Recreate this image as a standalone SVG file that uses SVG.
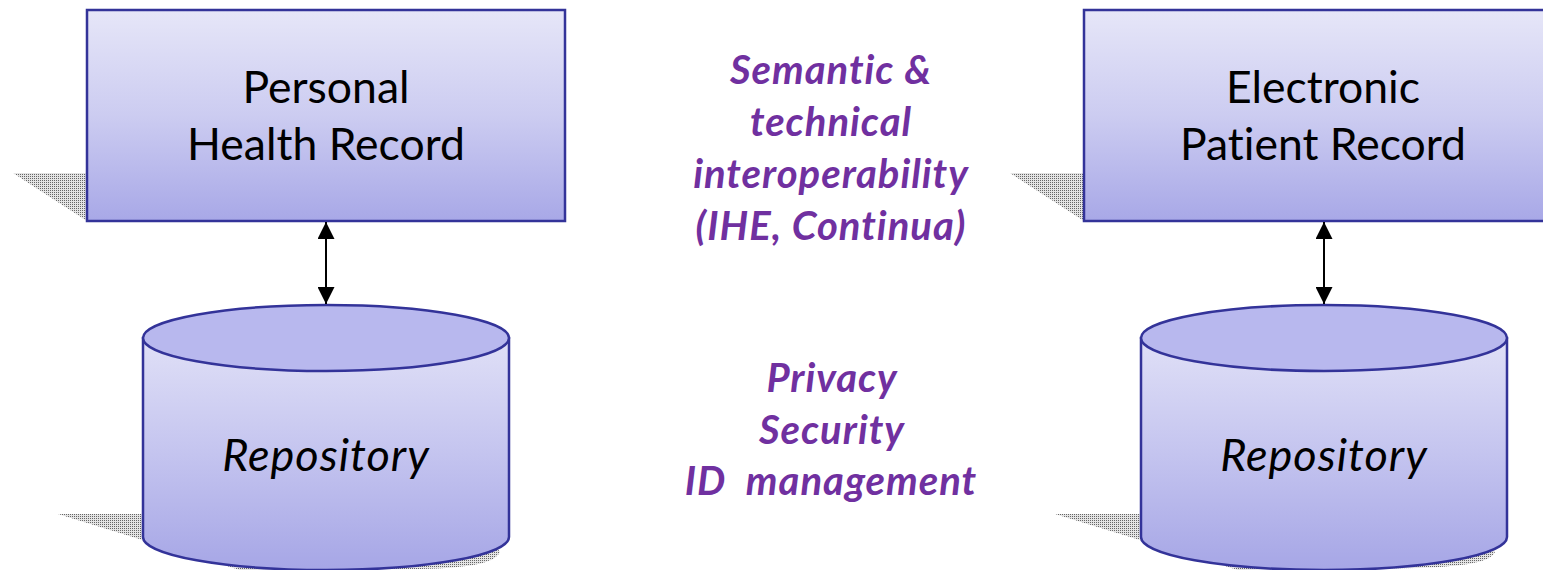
<svg xmlns="http://www.w3.org/2000/svg" width="1543" height="570" viewBox="0 0 1543 570">
<style>
.lbl{font-family:Lato,"Open Sans","Liberation Sans",sans-serif;font-size:44.5px;fill:#000;text-anchor:middle;font-variant-ligatures:none}
.it{font-style:italic;font-size:45px;letter-spacing:1px}
.mid{font-family:Lato,"Open Sans","Liberation Sans",sans-serif;font-size:40px;letter-spacing:1px;font-weight:bold;font-style:italic;fill:#7030a0;text-anchor:middle;font-variant-ligatures:none}
.box{fill:url(#gBox);stroke:#333399;stroke-width:2.5}
.side{fill:url(#gCyl);stroke:#333399;stroke-width:2.5}
.top{fill:#b8b8ee;stroke:#333399;stroke-width:2.5}
.shadow{fill:url(#dots)}
.conn{stroke:#000;stroke-width:2;fill:none;marker-start:url(#ah);marker-end:url(#ah)}
</style>
<defs>
<linearGradient id="gBox" x1="0" y1="0" x2="0" y2="1">
<stop offset="0" stop-color="#e6e6f8"/><stop offset="0.5" stop-color="#ccccf1"/><stop offset="1" stop-color="#a8a8e7"/>
</linearGradient>
<linearGradient id="gCyl" x1="0" y1="0" x2="0" y2="1">
<stop offset="0" stop-color="#e0e0f7"/><stop offset="0.5" stop-color="#c4c4ef"/><stop offset="1" stop-color="#a6a6e6"/>
</linearGradient>
<pattern id="dots" width="2" height="2" patternUnits="userSpaceOnUse">
<rect width="2" height="2" fill="#e4e4e4"/>
<rect width="1" height="1" fill="#666"/>
</pattern>
<marker id="ah" viewBox="0 0 16 16" refX="16" refY="8" markerWidth="17" markerHeight="17" markerUnits="userSpaceOnUse" orient="auto-start-reverse">
<path d="M0,0 L16,8 L0,16 Z" fill="#000"/>
</marker>
</defs>

<g id="phr">
<polygon class="shadow" points="13,173 491,173 565,221 87,221"/>
<rect class="box" x="87" y="10" width="478" height="211"/>
<text class="lbl" x="326" y="103">Personal</text>
<text class="lbl" x="326" y="160">Health Record</text>
</g>

<g id="phr-repo">
<path class="shadow" d="M58,514 L470,514 L500,552 C495,563 470,568 420,569 L240,570 Z"/>
<path class="side" d="M143,338 L143,537 A183,33 0 0 0 509,537 L509,338 Z"/>
<ellipse class="top" cx="326" cy="338" rx="183" ry="33"/>
<text class="lbl it" x="326" y="471">Repository</text>
</g>

<g id="epr">
<polygon class="shadow" points="1010,173 1488,173 1562,221 1084,221"/>
<rect class="box" x="1084" y="10" width="470" height="211"/>
<text class="lbl" x="1323" y="103">Electronic</text>
<text class="lbl" x="1323" y="160">Patient Record</text>
</g>

<g id="epr-repo">
<path class="shadow" d="M1055,514 L1467,514 L1495,552 C1490,562 1468,566 1418,568 L1238,570 Z"/>
<path class="side" d="M1141,338 L1141,537 A183,33 0 0 0 1507,537 L1507,338 Z"/>
<ellipse class="top" cx="1324" cy="338" rx="183" ry="33"/>
<text class="lbl it" x="1324" y="471">Repository</text>
</g>

<g id="interop">
<text class="mid" x="831" y="84">Semantic &amp;</text>
<text class="mid" x="831" y="136">technical</text>
<text class="mid" x="831" y="188">interoperability</text>
<text class="mid" x="831" y="240">(IHE, Continua)</text>
</g>

<g id="privacy">
<text class="mid" x="832" y="392">Privacy</text>
<text class="mid" x="832" y="444">Security</text>
<text class="mid" x="831" y="495" xml:space="preserve">ID  management</text>
</g>

<g id="connectors">
<line class="conn" x1="326" y1="222" x2="326" y2="304"/>
<line class="conn" x1="1324" y1="222" x2="1324" y2="304"/>
</g>
</svg>
